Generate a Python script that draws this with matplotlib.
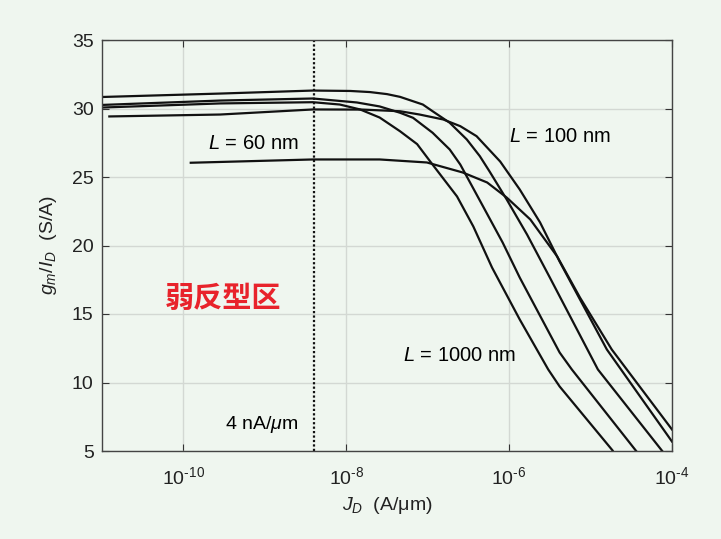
import numpy as np
import matplotlib.pyplot as plt

# -------------------------------
# Data (log10 of J_D in A/um, gm/ID in S/A)
# -------------------------------
logj_1000 = [-11.0, -9.55, -8.41, -8.08, -7.83, -7.59, -7.34, -7.13, -6.96, -6.64, -6.44, -6.21, -5.87, -5.52, -5.38, -4.73]
gm_1000 = [30.07, 30.37, 30.46, 30.29, 29.93, 29.34, 28.34, 27.40, 26.06, 23.58, 21.39, 18.39, 14.60, 10.95, 9.71, 5.04]

logj_500 = [-11.0, -9.55, -8.41, -7.87, -7.59, -7.34, -7.18, -6.94, -6.73, -6.60, -6.32, -6.08, -5.87, -5.38, -5.23, -4.44]
gm_500 = [30.26, 30.58, 30.73, 30.44, 30.15, 29.69, 29.32, 28.23, 27.01, 25.91, 22.85, 20.22, 17.66, 12.19, 10.95, 5.0]

logj_200 = [-11.0, -9.55, -8.41, -7.95, -7.71, -7.50, -7.34, -7.06, -6.94, -6.73, -6.52, -6.36, -6.24, -6.03, -5.78, -5.50, -4.91, -4.12]
gm_200 = [30.84, 31.09, 31.31, 31.28, 31.20, 31.05, 30.85, 30.29, 29.80, 28.96, 27.74, 26.52, 25.40, 23.36, 20.80, 17.66, 10.95, 5.0]

logj_100 = [-10.91, -9.55, -8.41, -7.80, -7.34, -7.10, -6.81, -6.60, -6.40, -6.11, -5.87, -5.62, -5.38, -5.13, -4.80, -4.0]
gm_100 = [29.42, 29.56, 29.93, 29.92, 29.80, 29.56, 29.20, 28.71, 27.98, 26.13, 24.09, 21.68, 18.83, 16.06, 12.41, 5.69]

logj_60 = [-9.91, -8.41, -7.59, -7.01, -6.57, -6.27, -6.03, -5.74, -5.41, -5.13, -4.74, -4.0]
gm_60 = [26.04, 26.28, 26.28, 26.06, 25.33, 24.60, 23.50, 21.90, 19.20, 16.20, 12.41, 6.57]

curves = [(logj_1000, gm_1000), (logj_500, gm_500), (logj_200, gm_200),
          (logj_100, gm_100), (logj_60, gm_60)]

j_ref = 4e-9
xticks = [1e-10, 1e-8, 1e-6, 1e-4]
xticklabels = [r'$10^{\text{-10}}$', r'$10^{\text{-8}}$', r'$10^{\text{-6}}$', r'$10^{\text{-4}}$']
yticks = [5, 10, 15, 20, 25, 30, 35]

bg = '#eff6ef'

plt.rcParams['font.family'] = ['Liberation Sans', 'Noto Sans CJK SC', 'DejaVu Sans']
plt.rcParams['mathtext.fontset'] = 'custom'
plt.rcParams['mathtext.rm'] = 'Liberation Sans'
plt.rcParams['mathtext.it'] = 'Liberation Sans:italic'
plt.rcParams['mathtext.bf'] = 'Liberation Sans:bold'
plt.rcParams['axes.unicode_minus'] = False

fig = plt.figure(figsize=(7.21, 5.39), dpi=100, facecolor=bg)
ax = fig.add_axes([102 / 721, 88 / 539, 570 / 721, 411 / 539])
ax.set_facecolor(bg)

for lj, g in curves:
    ax.plot(10 ** np.array(lj), g, color='#111111', lw=1.6)

ax.axvline(j_ref, color='#111111', lw=1.6, ls=(0, (1, 1)))

ax.set_xscale('log')
ax.set_xlim(1e-11, 1e-4)
ax.set_ylim(5, 35)
ax.set_xticks(xticks)
ax.set_xticklabels(xticklabels)
ax.set_yticks(yticks)
ax.minorticks_off()
ax.grid(True, color='#d3d8d3', lw=1.0)
ax.set_axisbelow(True)

ax.tick_params(direction='in', top=True, right=True, labelsize=14,
               color='#333333', labelcolor='#222222', length=5)
ax.tick_params(axis='x', pad=11)
ax.tick_params(axis='y', pad=6)
for s in ax.spines.values():
    s.set_color('#444444')
    s.set_linewidth(1.0)

ax.set_xlabel(r'$J_D$  (A/μm)', fontsize=14, color='#222222', labelpad=5)
ax.set_ylabel(r'$g_m/I_D$  (S/A)', fontsize=14, color='#222222', labelpad=9)

ax.text(10 ** -9.14, 27.45, r'$L$ = 60 nm', fontsize=14.5, ha='center', va='center')
ax.text(10 ** -6.0, 27.93, r'$L$ = 100 nm', fontsize=14.5, ha='left', va='center')
ax.text(10 ** -7.30, 11.97, r'$L$ = 1000 nm', fontsize=14.5, ha='left', va='center')
ax.text(10 ** -8.59, 6.93, r'4 nA/$\mu$m', fontsize=14, ha='right', va='center')
ax.text(10 ** -9.51, 16.2, '弱反型区', fontsize=21, ha='center', va='center',
        color='#e8232b', fontweight='black', family=['Noto Sans CJK SC'])

fig.savefig('out.png', dpi=100, facecolor=bg)
